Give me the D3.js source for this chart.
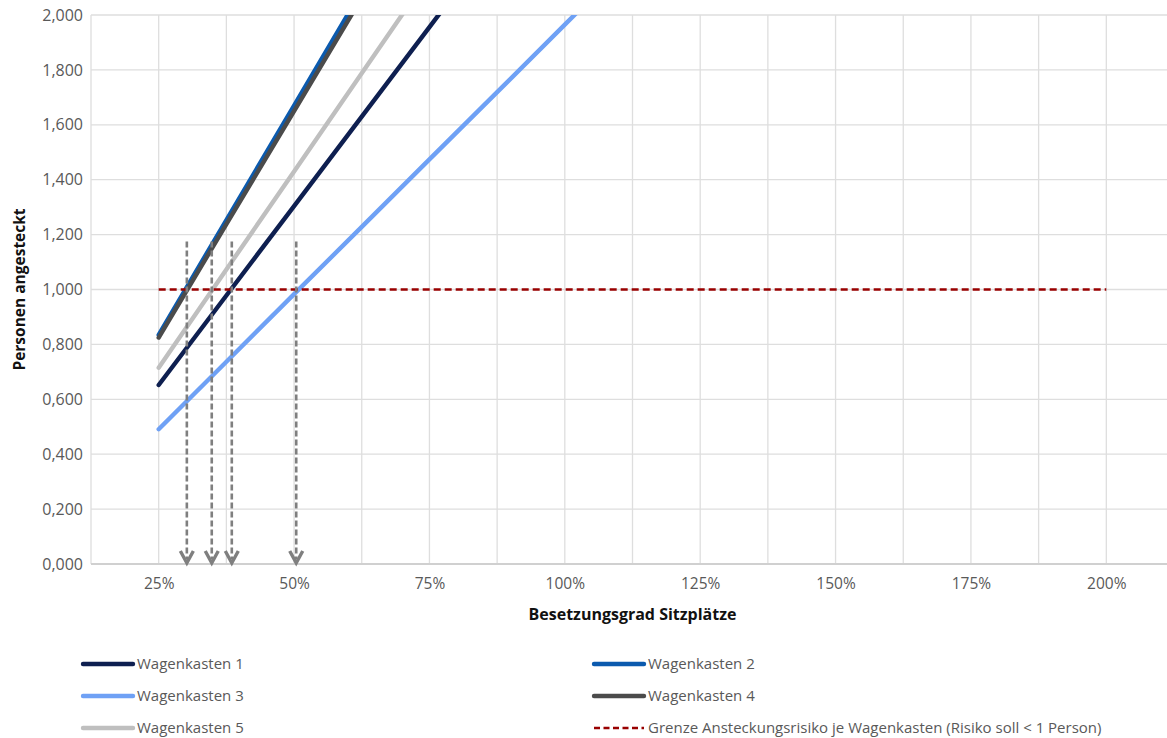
<!DOCTYPE html>
<html>
<head>
<meta charset="utf-8">
<script src="https://cdn.jsdelivr.net/npm/d3@7/dist/d3.min.js"></script>
<style>
  html, body { margin: 0; padding: 0; background: #ffffff; }
  svg { display: block; }
  text { font-family: "Open Sans", "Noto Sans", sans-serif; }
</style>
</head>
<body>
<svg id="chart" width="1167" height="738"></svg>
<script>
// Seat occupancy levels (x categories, as fractions)
const occupancy = [0.25, 0.375, 0.5, 0.625, 0.75, 0.875, 1.0, 1.125, 1.25, 1.375, 1.5, 1.625, 1.75, 1.875, 2.0];

// Expected number of infected persons per car body
const wagenkasten1 = [0.652, 0.978, 1.304, 1.630, 1.956, 2.282, 2.608, 2.934, 3.260, 3.586, 3.912, 4.238, 4.564, 4.890, 5.216];
const wagenkasten2 = [0.835, 1.253, 1.670, 2.088, 2.505, 2.923, 3.340, 3.758, 4.175, 4.593, 5.010, 5.428, 5.845, 6.263, 6.680];
const wagenkasten3 = [0.491, 0.737, 0.983, 1.228, 1.474, 1.719, 1.965, 2.211, 2.456, 2.702, 2.948, 3.193, 3.439, 3.684, 3.930];
const wagenkasten4 = [0.825, 1.238, 1.650, 2.063, 2.475, 2.888, 3.300, 3.713, 4.125, 4.538, 4.950, 5.363, 5.775, 6.188, 6.600];
const wagenkasten5 = [0.715, 1.073, 1.430, 1.788, 2.145, 2.503, 2.860, 3.218, 3.575, 3.933, 4.290, 4.648, 5.005, 5.363, 5.720];
// Limit: risk should stay below 1 person per car body
const grenze = [1, 1, 1, 1, 1, 1, 1, 1, 1, 1, 1, 1, 1, 1, 1];

// Occupancy at which each car body reaches the limit (marked by arrows)
const limitCrossings = [0.302, 0.348, 0.385, 0.504];
const arrowTop = 1.175;

// Axis ticks
const yTicks = [0, 0.2, 0.4, 0.6, 0.8, 1.0, 1.2, 1.4, 1.6, 1.8, 2.0];
const xGridTicks = [0.125, 0.25, 0.375, 0.5, 0.625, 0.75, 0.875, 1.0, 1.125, 1.25, 1.375, 1.5, 1.625, 1.75, 1.875, 2.0, 2.125];
const xLabelTicks = [0.25, 0.5, 0.75, 1.0, 1.25, 1.5, 1.75, 2.0];

const seriesNames = ["Wagenkasten 1", "Wagenkasten 2", "Wagenkasten 3", "Wagenkasten 4", "Wagenkasten 5"];
const seriesValues = [wagenkasten1, wagenkasten2, wagenkasten3, wagenkasten4, wagenkasten5];
const seriesColors = ["#0e1f50", "#0b5aae", "#6fa1f5", "#4b4b4b", "#bfbfbf"];
const grenzeName = "Grenze Ansteckungsrisiko je Wagenkasten (Risiko soll < 1 Person)";
const grenzeColor = "#990000";

const svg = d3.select("#chart");
const plot = { left: 91, right: 1174, top: 15, bottom: 564 };

const x = d3.scaleLinear().domain([0.125, 2.125]).range([plot.left, plot.right]);
const y = d3.scaleLinear().domain([0, 2]).range([plot.bottom, plot.top]);

const deFmt = d3.formatLocale({ decimal: ",", thousands: ".", grouping: [3], currency: ["", "€"] });
const yFmt = v => deFmt.format(".3f")(v);
const pctFmt = v => Math.round(v * 100) + "%";

svg.append("defs").append("clipPath").attr("id", "plotClip")
  .append("rect")
  .attr("x", plot.left).attr("y", plot.top)
  .attr("width", plot.right - plot.left).attr("height", plot.bottom - plot.top);

// Gridlines
const grid = svg.append("g");
grid.selectAll("line.v").data(xGridTicks).join("line")
  .attr("x1", d => x(d)).attr("x2", d => x(d))
  .attr("y1", plot.top).attr("y2", plot.bottom)
  .attr("stroke", "#dedede").attr("stroke-width", 1.3);
grid.selectAll("line.h").data(yTicks).join("line")
  .attr("x1", plot.left).attr("x2", plot.right)
  .attr("y1", d => y(d)).attr("y2", d => y(d))
  .attr("stroke", d => d === 0 ? "#d0d0d0" : "#dedede")
  .attr("stroke-width", d => d === 0 ? 2 : 1.3);

// Y axis
const yAxis = svg.append("g")
  .attr("transform", `translate(${plot.left - 8},0)`)
  .call(d3.axisLeft(y).tickValues(yTicks).tickFormat(yFmt).tickSize(0).tickPadding(0));
yAxis.select(".domain").remove();
yAxis.selectAll("text").attr("fill", "#595959").style("font-size", "16px")
  .style("font-family", "'Open Sans', sans-serif");

// X axis
const xAxis = svg.append("g")
  .attr("transform", `translate(0,${plot.bottom + 14})`)
  .call(d3.axisBottom(x).tickValues(xLabelTicks).tickFormat(pctFmt).tickSize(0).tickPadding(0));
xAxis.select(".domain").remove();
xAxis.selectAll("text").attr("fill", "#595959").style("font-size", "15.5px")
  .style("font-family", "'Open Sans', sans-serif");

// Axis titles
svg.append("text")
  .attr("x", (plot.left + plot.right) / 2).attr("y", 620)
  .attr("text-anchor", "middle")
  .style("font-size", "16px").style("font-weight", "700").attr("fill", "#111")
  .text("Besetzungsgrad Sitzplätze");
svg.append("text")
  .attr("transform", `translate(25,${(plot.top + plot.bottom) / 2}) rotate(-90)`)
  .attr("text-anchor", "middle")
  .style("font-size", "15.5px").style("font-weight", "700").attr("fill", "#111")
  .text("Personen angesteckt");

// Series lines
const lineGen = d3.line().x((d, i) => x(occupancy[i])).y(d => y(d));
const marks = svg.append("g").attr("clip-path", "url(#plotClip)");
seriesValues.forEach((vals, i) => {
  marks.append("path")
    .datum(vals)
    .attr("d", lineGen)
    .attr("fill", "none")
    .attr("stroke", seriesColors[i])
    .attr("stroke-width", 4.4)
    .attr("stroke-linecap", "round")
    .attr("stroke-linejoin", "round");
});
marks.append("path")
  .datum(grenze)
  .attr("d", lineGen)
  .attr("fill", "none")
  .attr("stroke", grenzeColor)
  .attr("stroke-width", 2.5)
  .attr("stroke-dasharray", "7,4");

// Arrows down to the occupancy where the limit is reached
const arrows = svg.append("g");
arrows.selectAll("line").data(limitCrossings).join("line")
  .attr("x1", d => x(d)).attr("x2", d => x(d))
  .attr("y1", y(arrowTop)).attr("y2", plot.bottom - 5)
  .attr("stroke", "#7f7f7f").attr("stroke-width", 2.6)
  .attr("stroke-dasharray", "6,3");
arrows.selectAll("path").data(limitCrossings).join("path")
  .attr("d", d => {
    const cx = x(d), ty = plot.bottom - 1;
    return `M${cx - 6.5},${ty - 12} L${cx},${ty} L${cx + 6.5},${ty - 12}`;
  })
  .attr("fill", "none").attr("stroke", "#7f7f7f").attr("stroke-width", 3.4)
  .attr("stroke-linejoin", "miter");

// Legend
const legendItems = [
  { name: seriesNames[0], color: seriesColors[0], dash: null, col: 0, row: 0 },
  { name: seriesNames[1], color: seriesColors[1], dash: null, col: 1, row: 0 },
  { name: seriesNames[2], color: seriesColors[2], dash: null, col: 0, row: 1 },
  { name: seriesNames[3], color: seriesColors[3], dash: null, col: 1, row: 1 },
  { name: seriesNames[4], color: seriesColors[4], dash: null, col: 0, row: 2 },
  { name: grenzeName, color: grenzeColor, dash: "6,3.5", col: 1, row: 2 }
];
const colX = [83, 594];
const rowY = [664, 696, 728];
const legend = svg.append("g");
legendItems.forEach(it => {
  const lx = colX[it.col], ly = rowY[it.row];
  legend.append("line")
    .attr("x1", lx).attr("x2", lx + 50).attr("y1", ly).attr("y2", ly)
    .attr("stroke", it.color)
    .attr("stroke-width", it.dash ? 2.5 : 4.4)
    .attr("stroke-linecap", it.dash ? "butt" : "round")
    .attr("stroke-dasharray", it.dash);
  legend.append("text")
    .attr("x", lx + 54).attr("y", ly).attr("dy", "0.35em")
    .attr("fill", "#595959").style("font-size", "15px")
    .text(it.name);
});
</script>
</body>
</html>
